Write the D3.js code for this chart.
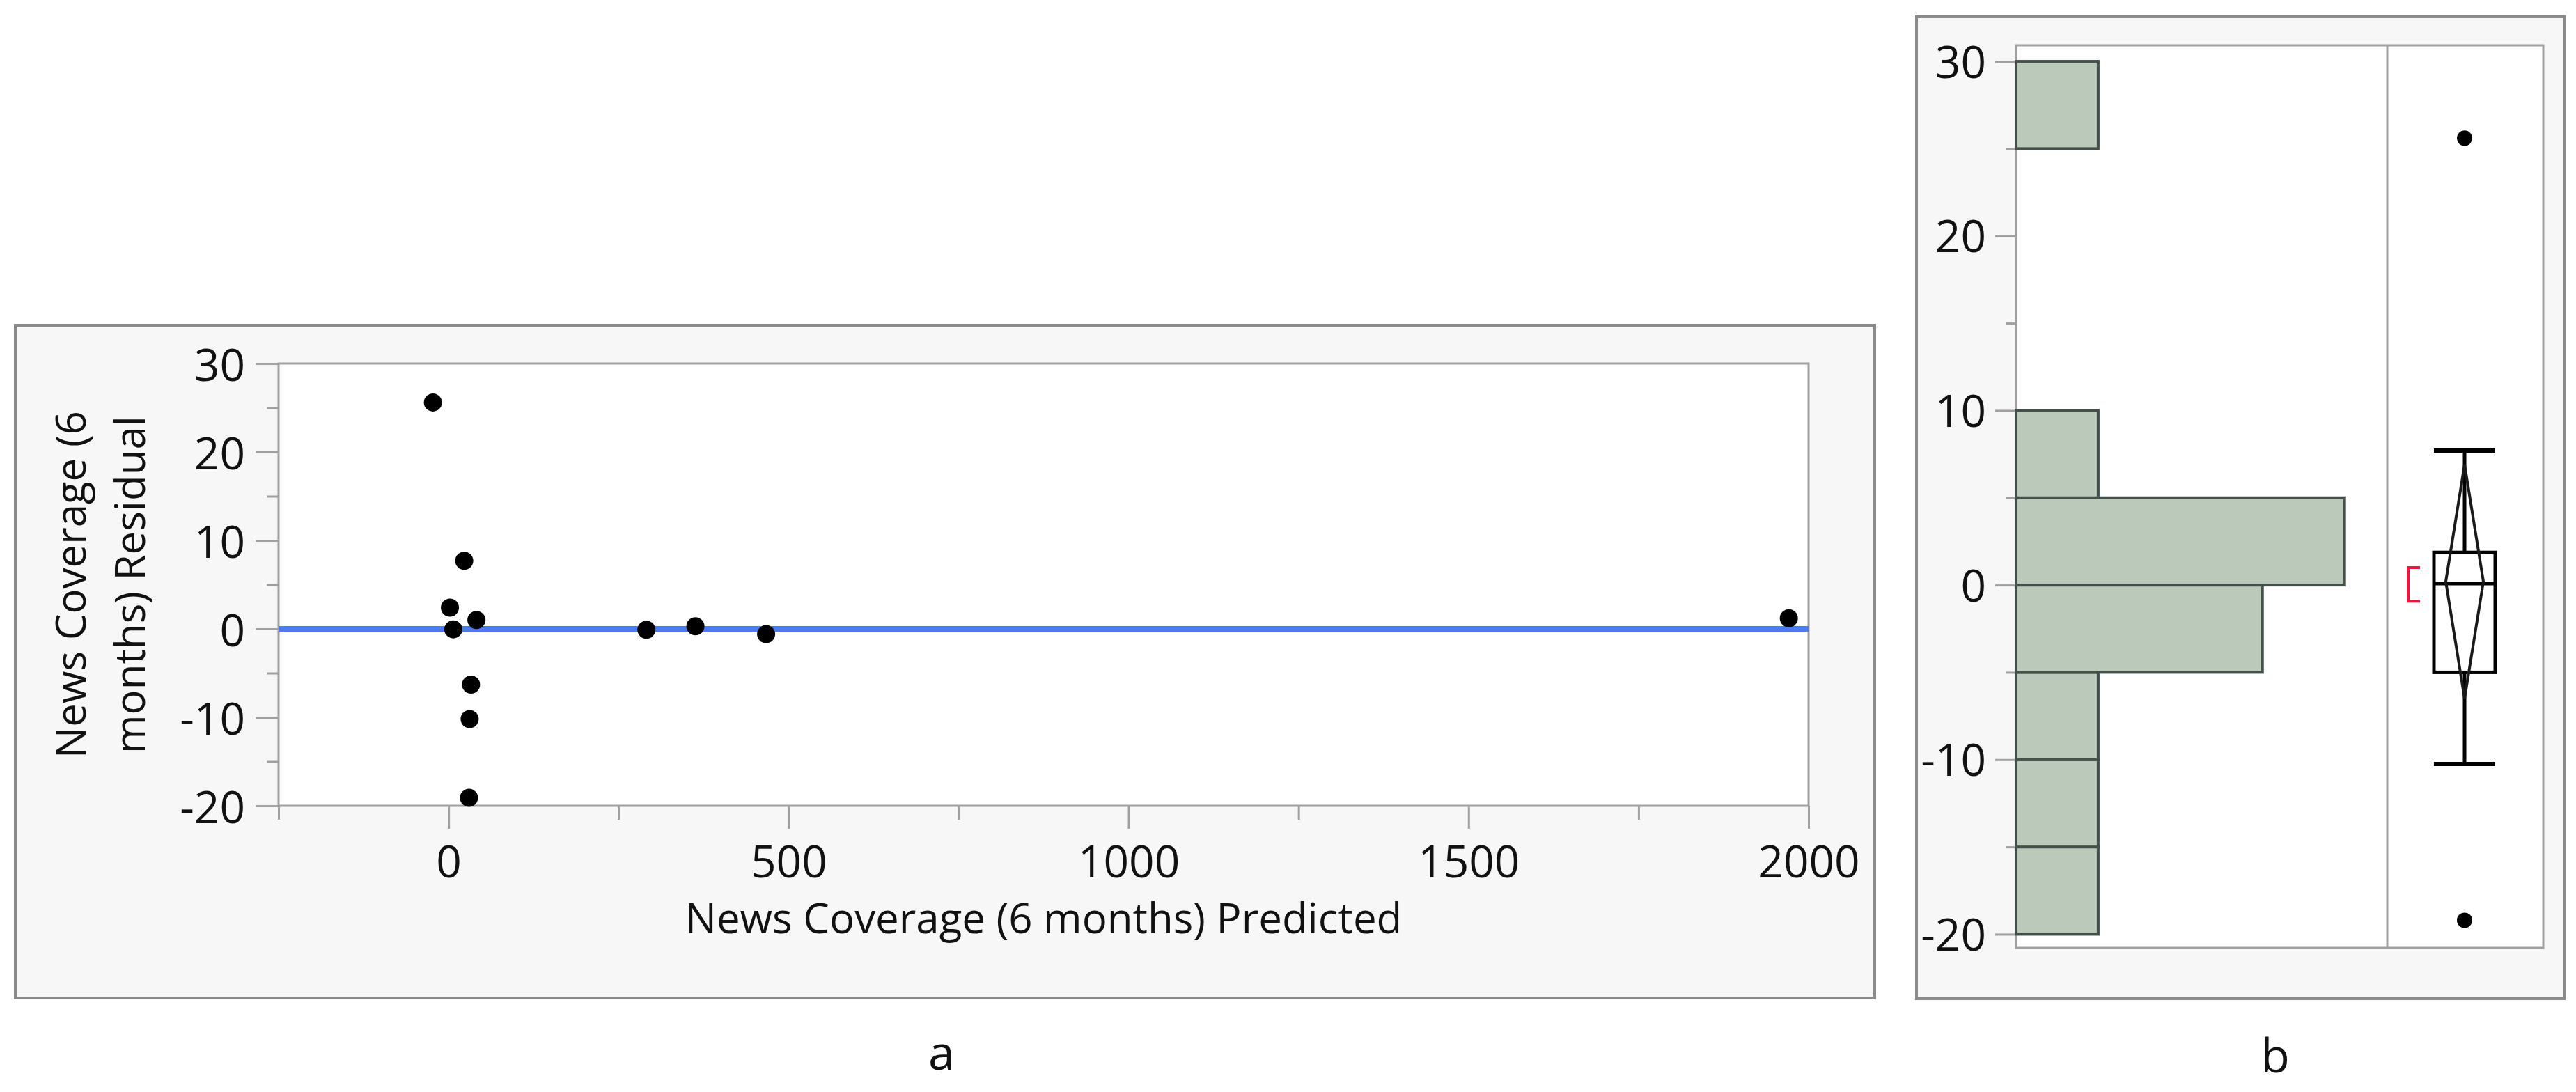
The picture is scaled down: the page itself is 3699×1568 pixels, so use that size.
<!DOCTYPE html>
<html>
<head>
<meta charset="utf-8">
<script src="https://cdn.jsdelivr.net/npm/d3@7"></script>
<style>
    body { margin: 0; background: #fff; }
    text { font-family: "Open Sans", "Noto Sans", sans-serif; fill: #111; }
</style>
</head>
<body>
<div id="chart"></div>
<script>
// ---------- data: residual by predicted (panel a) ----------
const predicted = [-23, 23, 2, 7, 41, 33, 31, 30, 291, 363, 467, 1971];
const residual = [25.6, 7.7, 2.4, -0.05, 1.0, -6.3, -10.2, -19.1, -0.1, 0.3, -0.6, 1.2];
const xTicks = [0, 500, 1000, 1500, 2000];
const xMinorTicks = [-250, 250, 750, 1250, 1750];
const yTicks = [-20, -10, 0, 10, 20, 30];
const yMinorTicks = [-15, -5, 5, 15, 25];
const xTitle = "News Coverage (6 months) Predicted";
const yTitle = ["News Coverage (6", "months) Residual"];

// ---------- data: residual distribution (panel b) ----------
const binStart = [-20, -15, -10, -5, 0, 5, 25];
const binCount = [1, 1, 1, 3, 4, 1, 1];
const binWidth = 5;
const boxQuartiles = [-5.0, 0.08, 1.87];   // q1, median, q3
const boxWhiskers = [-10.25, 7.7];
const boxOutliers = [-19.2, 25.6];
const meanDiamond = [-6.5, 0.2, 6.9];      // lower, mean, upper
const shortestHalf = [-0.92, 1.0];
const panelLabels = ["a", "b"];

const W = 3699, H = 1568;
const gridColor = "#a0a0a0";
const plainNumber = d => String(d);   // "-20", "1000" like the original

const svg = d3.select("#chart")
    .append("svg")
    .attr("width", W)
    .attr("height", H)
    .attr("viewBox", `0 0 ${W} ${H}`);

svg.append("rect").attr("width", W).attr("height", H).attr("fill", "#fff");

function styleAxis(g) {
    g.select(".domain").remove();
    g.selectAll(".tick line").attr("stroke", gridColor).attr("stroke-width", 3);
    g.selectAll(".tick text").style("font-size", "64px").attr("fill", "#111");
}

//////////////////// PANEL A ////////////////////

svg.append("rect")
    .attr("x", 22).attr("y", 467)
    .attr("width", 2670).attr("height", 966)
    .attr("fill", "#f7f7f7")
    .attr("stroke", "#8a8a8a")
    .attr("stroke-width", 4);

const xScale = d3.scaleLinear().domain([-250, 2000]).range([400, 2597]);
const yScale = d3.scaleLinear().domain([-20, 30]).range([1157, 522]);

svg.append("rect")
    .attr("x", xScale(-250)).attr("y", yScale(30))
    .attr("width", xScale(2000) - xScale(-250))
    .attr("height", yScale(-20) - yScale(30))
    .attr("fill", "#fff")
    .attr("stroke", gridColor)
    .attr("stroke-width", 3);

// minor ticks
svg.append("g")
    .attr("transform", `translate(0, ${yScale(-20)})`)
    .call(d3.axisBottom(xScale).tickValues(xMinorTicks).tickSize(20).tickFormat(""))
    .call(styleAxis);
svg.append("g")
    .attr("transform", `translate(${xScale(-250)}, 0)`)
    .call(d3.axisLeft(yScale).tickValues(yMinorTicks).tickSize(17).tickFormat(""))
    .call(styleAxis);

// major ticks
svg.append("g")
    .attr("transform", `translate(0, ${yScale(-20)})`)
    .call(d3.axisBottom(xScale).tickValues(xTicks).tickSize(33).tickPadding(25).tickFormat(plainNumber))
    .call(styleAxis);
svg.append("g")
    .attr("transform", `translate(${xScale(-250)}, 0)`)
    .call(d3.axisLeft(yScale).tickValues(yTicks).tickSize(33).tickPadding(15).tickFormat(plainNumber))
    .call(styleAxis)
    .call(g => g.selectAll(".tick text").attr("dy", "0.38em"));

// fit line at zero
svg.append("line")
    .attr("x1", xScale(-250)).attr("x2", xScale(2000))
    .attr("y1", yScale(0)).attr("y2", yScale(0))
    .attr("stroke", "#4b7bec")
    .attr("stroke-width", 8);

// points
svg.append("g")
    .selectAll("circle")
    .data(predicted)
    .join("circle")
    .attr("cx", d => xScale(d))
    .attr("cy", (d, i) => yScale(residual[i]))
    .attr("r", 13)
    .attr("fill", "#000");

// axis titles
svg.append("text")
    .attr("x", (xScale(-250) + xScale(2000)) / 2)
    .attr("y", 1340)
    .attr("text-anchor", "middle")
    .style("font-size", "60px")
    .text(xTitle);

yTitle.forEach((t, i) => {
    svg.append("text")
        .attr("transform", `translate(${123 + i * 85}, ${(yScale(30) + yScale(-20)) / 2}) rotate(-90)`)
        .attr("text-anchor", "middle")
        .style("font-size", "60px")
        .text(t);
});

//////////////////// PANEL B ////////////////////

svg.append("rect")
    .attr("x", 2752).attr("y", 24)
    .attr("width", 930).attr("height", 1410)
    .attr("fill", "#f7f7f7")
    .attr("stroke", "#8a8a8a")
    .attr("stroke-width", 4);

const yB = d3.scaleLinear().domain([-20.78, 30.92]).range([1361, 65]);
const countScale = d3.scaleLinear().domain([0, 4.52]).range([2895, 3428]);
const boxX = 3539;

svg.append("rect")
    .attr("x", countScale(0)).attr("y", yB(30.92))
    .attr("width", 3652 - countScale(0))
    .attr("height", yB(-20.78) - yB(30.92))
    .attr("fill", "#fff")
    .attr("stroke", gridColor)
    .attr("stroke-width", 3);

svg.append("line")
    .attr("x1", countScale(4.52)).attr("x2", countScale(4.52))
    .attr("y1", yB(30.92)).attr("y2", yB(-20.78))
    .attr("stroke", gridColor)
    .attr("stroke-width", 3);

svg.append("g")
    .attr("transform", `translate(${countScale(0)}, 0)`)
    .call(d3.axisLeft(yB).tickValues(yMinorTicks).tickSize(15).tickFormat(""))
    .call(styleAxis);
svg.append("g")
    .attr("transform", `translate(${countScale(0)}, 0)`)
    .call(d3.axisLeft(yB).tickValues(yTicks).tickSize(30).tickPadding(13).tickFormat(plainNumber))
    .call(styleAxis)
    .call(g => g.selectAll(".tick text").attr("dy", "0.36em"));

// histogram bars
svg.append("g")
    .selectAll("rect")
    .data(binStart)
    .join("rect")
    .attr("x", countScale(0))
    .attr("y", d => yB(d + binWidth))
    .attr("width", (d, i) => countScale(binCount[i]) - countScale(0))
    .attr("height", d => yB(d) - yB(d + binWidth))
    .attr("fill", "#bac9ba")
    .attr("stroke", "#44504a")
    .attr("stroke-width", 4);

// shortest half bracket
const bx0 = 3458, bx1 = 3475;
svg.append("path")
    .attr("d", `M${bx1},${yB(shortestHalf[1])} H${bx0} V${yB(shortestHalf[0])} H${bx1}`)
    .attr("fill", "none")
    .attr("stroke", "#e8183c")
    .attr("stroke-width", 4);

// whiskers
const boxHalf = 44;
svg.append("line")
    .attr("x1", boxX).attr("x2", boxX)
    .attr("y1", yB(boxWhiskers[1])).attr("y2", yB(boxWhiskers[0]))
    .attr("stroke", "#000").attr("stroke-width", 5);
boxWhiskers.forEach(v => {
    svg.append("line")
        .attr("x1", boxX - boxHalf).attr("x2", boxX + boxHalf)
        .attr("y1", yB(v)).attr("y2", yB(v))
        .attr("stroke", "#000").attr("stroke-width", 6);
});

// box
svg.append("rect")
    .attr("x", boxX - boxHalf)
    .attr("y", yB(boxQuartiles[2]))
    .attr("width", boxHalf * 2)
    .attr("height", yB(boxQuartiles[0]) - yB(boxQuartiles[2]))
    .attr("fill", "#fff")
    .attr("stroke", "#000")
    .attr("stroke-width", 5);
svg.append("line")
    .attr("x1", boxX - boxHalf).attr("x2", boxX + boxHalf)
    .attr("y1", yB(boxQuartiles[1])).attr("y2", yB(boxQuartiles[1]))
    .attr("stroke", "#000").attr("stroke-width", 5);

// mean diamond
const dHalf = 27;
svg.append("path")
    .attr("d", `M${boxX},${yB(meanDiamond[2])} L${boxX + dHalf},${yB(meanDiamond[1])} L${boxX},${yB(meanDiamond[0])} L${boxX - dHalf},${yB(meanDiamond[1])} Z`)
    .attr("fill", "none")
    .attr("stroke", "#1a1a1a")
    .attr("stroke-width", 4);

// outliers
svg.append("g")
    .selectAll("circle")
    .data(boxOutliers)
    .join("circle")
    .attr("cx", boxX)
    .attr("cy", d => yB(d))
    .attr("r", 11)
    .attr("fill", "#000");

//////////////////// PANEL LABELS ////////////////////
svg.selectAll(".panel-label")
    .data(panelLabels)
    .join("text")
    .attr("class", "panel-label")
    .attr("x", (d, i) => [1352, 3267][i])
    .attr("y", (d, i) => [1536, 1540][i])
    .attr("text-anchor", "middle")
    .style("font-size", "68px")
    .attr("fill", "#000")
    .text(d => d);
</script>
</body>
</html>
